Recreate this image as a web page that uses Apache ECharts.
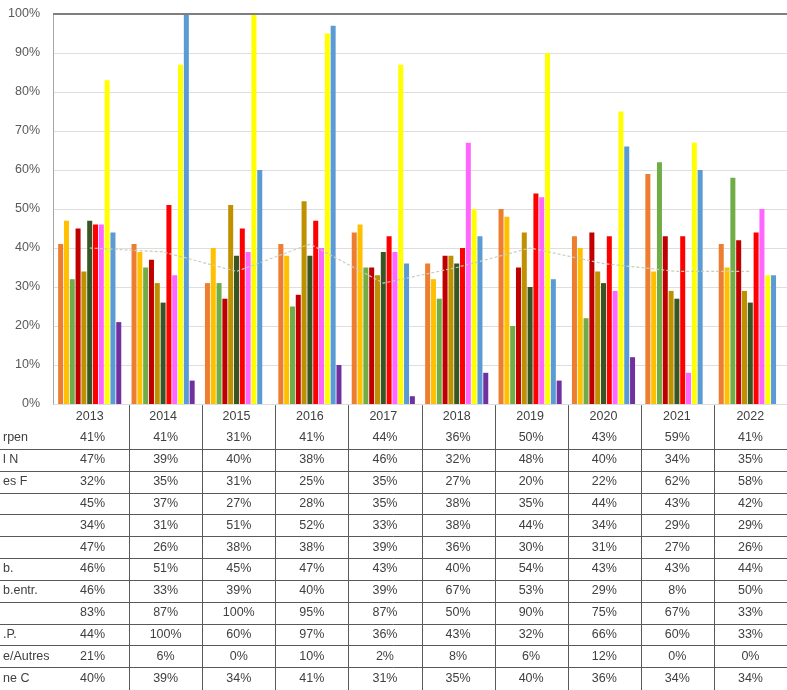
<!DOCTYPE html>
<html>
<head>
<meta charset="utf-8">
<script src="https://cdn.jsdelivr.net/npm/echarts@6/dist/echarts.min.js"></script>
<style>
  html, body { margin: 0; padding: 0; background: #ffffff; }
  #chart { width: 787px; height: 690px; }
</style>
</head>
<body>
<div id="chart"></div>
<script>
// Years on the category axis
const years = ['2013', '2014', '2015', '2016', '2017', '2018', '2019', '2020', '2021', '2022'];

// Row labels of the data table (visible part of each label)
const rowLabels = ['rpen', 'l N', 'es F', '', '', '', 'b.', 'b.entr.', '', '.P.', 'e/Autres', 'ne C'];

// Percent values per series, 2013 -> 2022
const s01 = [41, 41, 31, 41, 44, 36, 50, 43, 59, 41];
const s02 = [47, 39, 40, 38, 46, 32, 48, 40, 34, 35];
const s03 = [32, 35, 31, 25, 35, 27, 20, 22, 62, 58];
const s04 = [45, 37, 27, 28, 35, 38, 35, 44, 43, 42];
const s05 = [34, 31, 51, 52, 33, 38, 44, 34, 29, 29];
const s06 = [47, 26, 38, 38, 39, 36, 30, 31, 27, 26];
const s07 = [46, 51, 45, 47, 43, 40, 54, 43, 43, 44];
const s08 = [46, 33, 39, 40, 39, 67, 53, 29, 8, 50];
const s09 = [83, 87, 100, 95, 87, 50, 90, 75, 67, 33];
const s10 = [44, 100, 60, 97, 36, 43, 32, 66, 60, 33];
const s11 = [21, 6, 0, 10, 2, 8, 6, 12, 0, 0];
const avgLine = [40, 39, 34, 41, 31, 35, 40, 36, 34, 34];

// Y axis ticks (percent)
const yMin = 0, yMax = 100, yStep = 10;

const barSeriesData = [s01, s02, s03, s04, s05, s06, s07, s08, s09, s10, s11];
const barColors = ['#ED7D31', '#FFC000', '#70AD47', '#C00000', '#BF9000', '#375623',
                   '#FF0000', '#FF66FF', '#FFFF00', '#5B9BD5', '#7030A0'];
const allRows = barSeriesData.concat([avgLine]);

const FONT = 'Liberation Sans';
const TEXT = '#404040';

const chart = echarts.init(document.getElementById('chart'), null, { renderer: 'canvas' });

const series = barSeriesData.map((vals, k) => ({
  name: 'row' + (k + 1),
  type: 'bar',
  xAxisIndex: 0,
  yAxisIndex: 0,
  data: vals,
  barCategoryGap: '14%',
  barGap: '16%',
  itemStyle: { color: barColors[k] },
  silent: true,
  markLine: k === 0 ? {
    silent: true,
    symbol: 'none',
    label: { show: false },
    lineStyle: { color: '#7f7f7f', width: 2, type: 'solid' },
    data: [{ yAxis: yMax }]
  } : undefined
}));

// Thin dotted trend line over the bars
series.push({
  name: 'row12',
  type: 'line',
  xAxisIndex: 0,
  yAxisIndex: 0,
  data: avgLine,
  symbol: 'none',
  smooth: false,
  lineStyle: { color: '#c9cebb', width: 1.2, type: [3, 2] },
  z: 5,
  silent: true
});

// Table cell values
const cellData = [];
allRows.forEach((vals, r) => vals.forEach((v, i) => cellData.push([i, r, v])));

series.push({
  type: 'custom',
  xAxisIndex: 1,
  yAxisIndex: 1,
  data: cellData,
  silent: true,
  renderItem: function (params, api) {
    const p = api.coord([api.value(0), api.value(1)]);
    return {
      type: 'text',
      x: p[0],
      y: p[1],
      style: {
        text: api.value(2) + '%',
        textAlign: 'center',
        textVerticalAlign: 'middle',
        fill: TEXT,
        font: '12.5px "' + FONT + '"'
      }
    };
  }
});

// Table rules: horizontal lines between rows, vertical lines between years
series.push({
  type: 'custom',
  xAxisIndex: 1,
  yAxisIndex: 1,
  data: [[0, 0]],
  silent: true,
  renderItem: function (params, api) {
    const size = api.size([1, 1]);
    const cw = size[0], rh = size[1];
    const W = api.getWidth(), H = api.getHeight();
    const children = [];
    for (let r = 0; r < allRows.length - 1; r++) {
      const y = Math.round(api.coord([0, r])[1] + rh / 2) + 0.5;
      children.push({
        type: 'line',
        shape: { x1: 0, y1: y, x2: W, y2: y },
        style: { stroke: '#595959', lineWidth: 1 }
      });
    }
    const yTop = api.coord([0, 0])[1] - 1.5 * rh;
    for (let i = 1; i < years.length; i++) {
      const x = Math.round(api.coord([i, 0])[0] - cw / 2) + 0.5;
      children.push({
        type: 'line',
        shape: { x1: x, y1: yTop, x2: x, y2: H },
        style: { stroke: '#595959', lineWidth: 1 }
      });
    }
    return { type: 'group', children: children };
  }
});

chart.setOption({
  animation: false,
  backgroundColor: '#ffffff',
  textStyle: { fontFamily: FONT },
  grid: [
    { left: 53, right: -2, top: 14, height: 390 },
    { left: 53, right: -2, top: 427, height: 262 }
  ],
  xAxis: [
    {
      type: 'category',
      gridIndex: 0,
      data: years,
      axisLine: { show: false },
      axisTick: { show: false },
      axisLabel: { color: TEXT, fontSize: 12.5, margin: 6, fontFamily: FONT }
    },
    {
      type: 'category',
      gridIndex: 1,
      data: years,
      axisLine: { show: false },
      axisTick: { show: false },
      axisLabel: { show: false },
      splitLine: { show: false }
    }
  ],
  yAxis: [
    {
      type: 'value',
      gridIndex: 0,
      min: yMin,
      max: yMax,
      interval: yStep,
      axisLine: { show: true, lineStyle: { color: '#a6a6a6', width: 1 } },
      axisTick: { show: false },
      axisLabel: { color: '#595959', fontSize: 12.5, margin: 13, formatter: '{value}%', fontFamily: FONT },
      splitLine: { show: true, lineStyle: { color: '#dedede', width: 1 } }
    },
    {
      type: 'category',
      gridIndex: 1,
      data: rowLabels,
      inverse: true,
      axisLine: { show: false },
      axisTick: { show: false },
      splitLine: { show: false },
      axisLabel: { color: TEXT, fontSize: 12.5, align: 'left', margin: 53, fontFamily: FONT }
    }
  ],
  series: series
});
</script>
</body>
</html>
